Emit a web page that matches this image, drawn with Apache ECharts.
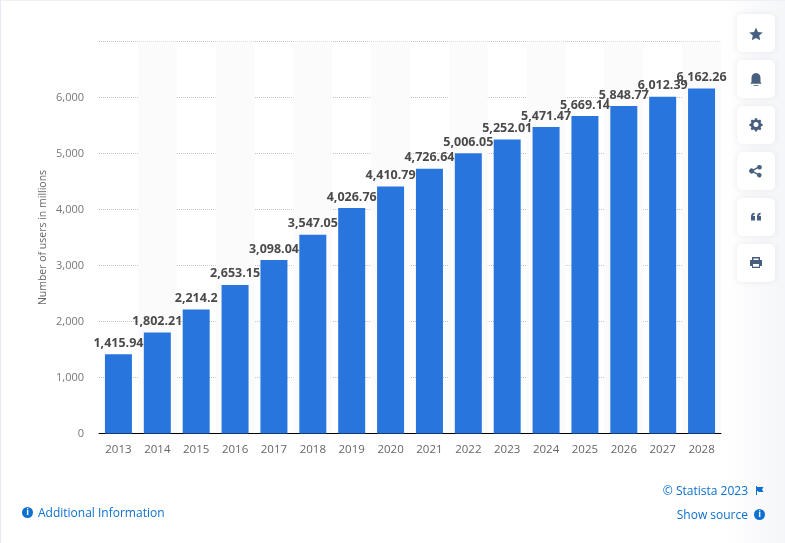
<!DOCTYPE html>
<html lang="en">
<head>
  <meta charset="UTF-8">
  <title>Number of users in millions</title>
  <script src="https://cdn.jsdelivr.net/npm/echarts@6/dist/echarts.min.js"></script>
  <style>
    html, body { margin: 0; padding: 0; background: #fff; }
  </style>
</head>
<body>
<div id="main" style="width: 785px; height: 543px;"></div>
<script>
	var years = ['2013', '2014', '2015', '2016', '2017', '2018', '2019', '2020', '2021', '2022', '2023', '2024', '2025', '2026', '2027', '2028']
	var users = [1415.94, 1802.21, 2214.2, 2653.15, 3098.04, 3547.05, 4026.76, 4410.79, 4726.64, 5006.05, 5252.01, 5471.47, 5669.14, 5848.77, 6012.39, 6162.26]

	var FONT = '"Open Sans", sans-serif'
	var BLUE = '#0b70cf'
	var ICON = '#48607f'

	// side buttons, only decoration around the plot
	var buttonTops = [14, 60, 106, 152, 198, 244]
	var icons = [
		'M756 27.5l2 4.4 4.8.5-3.6 3.2 1 4.7-4.2-2.4-4.2 2.4 1-4.7-3.6-3.2 4.8-.5z',
		'M756 73c3 0 4.5 2.2 4.5 5v4l1.2 1.8h-11.4l1.2-1.8v-4c0-2.8 1.5-5 4.5-5zM753.5 85h5v.7h-5z',
		'M755 118.3h2l.4 1.5 1.3.5 1.3-.8 1.4 1.4-.8 1.3.5 1.3 1.5.4v2l-1.5.4-.5 1.3.8 1.3-1.4 1.4-1.3-.8-1.3.5-.4 1.5h-2l-.4-1.5-1.3-.5-1.3.8-1.4-1.4.8-1.3-.5-1.3-1.5-.4v-2l1.5-.4.5-1.3-.8-1.3 1.4-1.4 1.3.8 1.3-.5zM756 122a2.5 2.5 0 1 0 0 5 2.5 2.5 0 0 0 0-5z',
		'M759.5 165a2.3 2.3 0 1 1-1.9 3.5l-3.5 2a2.3 2.3 0 0 1 0 1l3.5 2a2.3 2.3 0 1 1-.6 1.2l-3.6-2a2.5 2.5 0 1 1 0-3.4l3.6-2a2.3 2.3 0 0 1 2.5-2.3z',
		'M751 216.5c0-2.2 1.2-3.5 3.6-3.7v1.7c-1 .1-1.5.6-1.6 1.5h2v4.5h-4zM757 216.5c0-2.2 1.2-3.5 3.6-3.7v1.7c-1 .1-1.5.6-1.6 1.5h2v4.5h-4z',
		'M752 257h8v3h2v6h-2v2h-8v-2h-2v-6h2zM753.5 258.5v1.5h5v-1.5zM753 264v2.8h6V264z'
	]
	icons.forEach(function (d, i) {
		echarts.graphic.registerShape('icon' + i, echarts.graphic.extendPath(d, {}))
	})
	echarts.graphic.registerShape('flag', echarts.graphic.extendPath('M756 486h1v1h6.5l-1.5 2.5 1.5 2.5h-5l-.5-1h-1v4h-1z', {}))

	var graphics = []
	graphics.push({ type: 'rect', silent: true, z: -2, shape: { x: 724, y: 0, width: 61, height: 543 }, style: { fill: new echarts.graphic.LinearGradient(0, 0, 1, 0, [{ offset: 0, color: '#ffffff' }, { offset: 1, color: '#f5f6f9' }]) } })
	graphics.push({ type: 'rect', silent: true, z: -2, shape: { x: 0, y: 0, width: 785, height: 1 }, style: { fill: '#eff0f5' } })
	graphics.push({ type: 'rect', silent: true, z: -2, shape: { x: 0, y: 0, width: 1, height: 543 }, style: { fill: '#e8e9f1' } })
	buttonTops.forEach(function (top, i) {
		graphics.push({
			type: 'rect', silent: true,
			shape: { x: 737, y: top, width: 38, height: 38, r: 5 },
			style: { fill: '#fff', shadowBlur: 6, shadowColor: 'rgba(60,70,100,0.10)' }
		})
		graphics.push({ type: 'icon' + i, silent: true, style: { fill: ICON } })
	})

	// footer links
	graphics.push({ type: 'circle', silent: true, shape: { cx: 27.5, cy: 512.5, r: 5.5 }, style: { fill: BLUE } })
	graphics.push({ type: 'text', silent: true, style: { x: 27.5, y: 512.5, text: 'i', fill: '#fff', font: 'bold 9px ' + FONT, align: 'center', verticalAlign: 'middle' } })
	graphics.push({ type: 'text', silent: true, style: { x: 38, y: 513.5, text: 'Additional Information', fill: BLUE, font: '12px ' + FONT, verticalAlign: 'middle' } })
	graphics.push({ type: 'text', silent: true, style: { x: 748, y: 491.5, text: '© Statista 2023', fill: BLUE, font: '12px ' + FONT, align: 'right', verticalAlign: 'middle' } })
	graphics.push({ type: 'flag', silent: true, style: { fill: BLUE } })
	graphics.push({ type: 'text', silent: true, style: { x: 748, y: 515.5, text: 'Show source', fill: BLUE, font: '12px ' + FONT, align: 'right', verticalAlign: 'middle' } })
	graphics.push({ type: 'circle', silent: true, shape: { cx: 759.5, cy: 514.5, r: 5.5 }, style: { fill: BLUE } })
	graphics.push({ type: 'text', silent: true, style: { x: 759.5, y: 514.5, text: 'i', fill: '#fff', font: 'bold 9px ' + FONT, align: 'center', verticalAlign: 'middle' } })

	var myChart = echarts.init(document.getElementById('main'))
	var option = {
		animation: false,
		textStyle: { fontFamily: FONT },
		grid: { left: 99, right: 64, top: 41.5, bottom: 109.5 },
		xAxis: {
			type: 'category',
			data: years,
			axisLine: { lineStyle: { color: '#000', width: 1 } },
			axisTick: { show: false },
			axisLabel: { color: '#666', fontSize: 11.5, margin: 10.5, interval: 0 },
			splitArea: { show: true, interval: 0, areaStyle: { color: ['rgba(255,255,255,0)', '#fbfbfb'] } }
		},
		yAxis: {
			type: 'value',
			min: 0,
			max: 7000,
			interval: 1000,
			name: 'Number of users in millions',
			nameLocation: 'middle',
			nameGap: 50,
			nameMoveOverlap: false,
			nameTextStyle: { color: '#666', fontSize: 10.5 },
			axisLine: { show: false },
			axisTick: { show: false },
			axisLabel: {
				color: '#777',
				fontSize: 11,
				margin: 15,
				showMaxLabel: false,
				formatter: function (v) { return v.toLocaleString('en-US') }
			},
			splitLine: { lineStyle: { color: '#c4c4c4', type: 'dotted', width: 1 } }
		},
		series: [
			{
				type: 'bar',
				data: users,
				barWidth: 27,
				itemStyle: { color: '#2876dd' },
				label: {
					show: true,
					position: 'top',
					distance: 4.5,
					color: '#4a4a4a',
					fontSize: 12.5,
					fontWeight: 'bold',
					formatter: function (p) { return p.value.toLocaleString('en-US', { maximumFractionDigits: 2 }) }
				},
				labelLayout: { hideOverlap: false }
			}
		],
		graphic: { elements: graphics }
	}
	myChart.setOption(option)
</script>
</body>
</html>
